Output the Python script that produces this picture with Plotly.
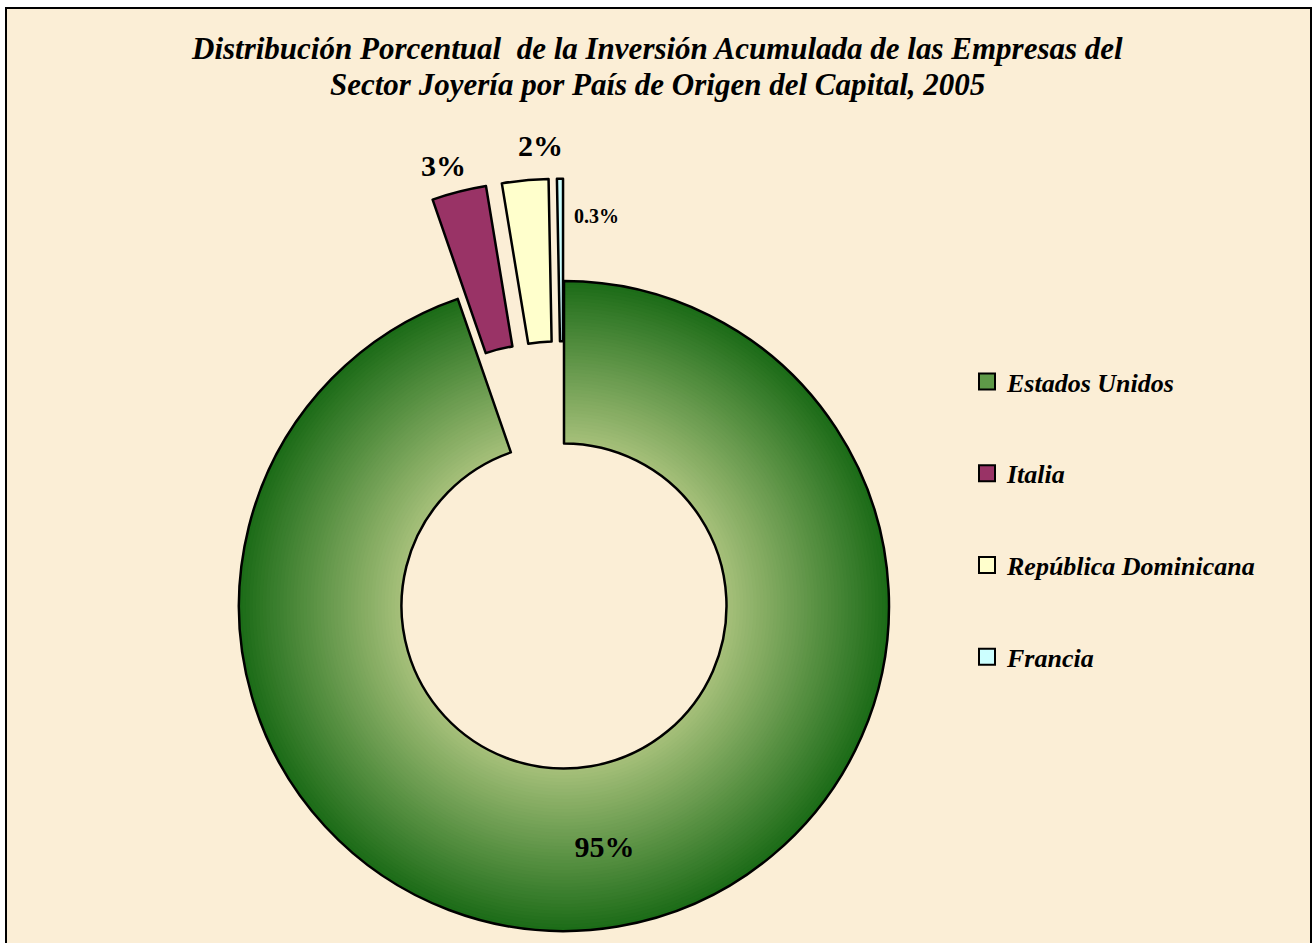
import math
import plotly.graph_objects as go

# ---------------- data ----------------
countries = ["Estados Unidos", "Italia", "República Dominicana", "Francia"]
shares = [94.7, 2.7, 2.3, 0.3]
label_text = ["95%", "3%", "2%", "0.3%"]
title_lines = [
    "Distribución Porcentual  de la Inversión Acumulada de las Empresas del",
    "Sector Joyería por País de Origen del Capital, 2005",
]

# ---------------- style ----------------
W, H = 1312, 943
CX, CY = 564, 606          # donut centre (px)
R = 325                    # outer radius (px)
HOLE = 0.5
PULL = 0.315
slice_colors = ["#5E9A48", "#993366", "#FFFFCC", "#CCFFFF"]
pulled = [False, True, True, True]
grad_outer = (27, 107, 23)
grad_inner = (166, 192, 122)
N_LAYERS = 48
label_shift = [(0, 0), (-16, -26), (15, -35), (37, 37)]   # px, screen down
label_size = [30, 30, 30, 20]
title_centers = [(657, 48), (657, 84)]
FONT = "Liberation Serif"
BG = "#FBEED6"
TRANSP = "rgba(0,0,0,0)"


def dom(cx, cy, r):
    return dict(x=[(cx - r) / W, (cx + r) / W], y=[1 - (cy + r) / H, 1 - (cy - r) / H])


def mix(a, b, t):
    return "rgb(%d,%d,%d)" % tuple(round(a[i] + (b[i] - a[i]) * t) for i in range(3))


total = sum(shares)
n = len(shares)
fig = go.Figure()

# radial gradient of the main slice, built from concentric rings
rin = R * HOLE
for k in range(N_LAYERS):
    rk = R - k * (R - rin) / N_LAYERS
    col = mix(grad_outer, grad_inner, (k + 0.5) / N_LAYERS)
    fig.add_trace(go.Pie(
        values=shares, labels=countries, sort=False, direction="clockwise", rotation=0,
        hole=rin / rk, domain=dom(CX, CY, rk),
        marker=dict(colors=[col if (i == 0) else TRANSP for i in range(n)], line=dict(width=0)),
        textinfo="none", hoverinfo="skip", showlegend=False,
    ))

# outline + inside label of the main slice
fig.add_trace(go.Pie(
    values=shares, labels=countries, sort=False, direction="clockwise", rotation=0,
    hole=HOLE, domain=dom(CX, CY, R),
    marker=dict(colors=[TRANSP] * n,
                line=dict(color="black", width=[0 if pulled[i] else 2.5 for i in range(n)])),
    text=[label_text[i] if not pulled[i] else "" for i in range(n)],
    textinfo="text", textposition=["inside" if not pulled[i] else "none" for i in range(n)],
    insidetextorientation="horizontal",
    textfont=dict(family=FONT, size=label_size[0], color="black", weight="bold"),
    hoverinfo="label+percent", showlegend=False,
))

# exploded slices, each drawn from a centre displaced along its mid-angle
annotations = []
cum = 0.0
for i in range(n):
    v = shares[i]
    theta = math.radians(360.0 * (cum + v / 2) / total)
    cum += v
    if not pulled[i]:
        continue
    d = PULL * R
    cx = CX + d * math.sin(theta)
    cy = CY - d * math.cos(theta)
    fig.add_trace(go.Pie(
        values=shares, labels=countries, sort=False, direction="clockwise", rotation=0,
        hole=HOLE, domain=dom(cx, cy, R),
        marker=dict(colors=[slice_colors[j] if j == i else TRANSP for j in range(n)],
                    line=dict(color="black", width=[2.5 if j == i else 0 for j in range(n)])),
        textinfo="none", hoverinfo="skip", showlegend=False,
    ))
    ox = cx + R * math.sin(theta)
    oy = cy - R * math.cos(theta)
    annotations.append(dict(
        x=ox / W, y=1 - oy / H, xref="paper", yref="paper",
        xshift=label_shift[i][0], yshift=-label_shift[i][1],
        text=label_text[i], showarrow=False, xanchor="center", yanchor="middle",
        font=dict(family=FONT, size=label_size[i], color="black", weight="bold"),
    ))

# title (two lines, tight spacing as in the original)
for line, (tx, ty) in zip(title_lines, title_centers):
    annotations.append(dict(
        x=tx / W, y=1 - ty / H, xref="paper", yref="paper", text=line,
        showarrow=False, xanchor="center", yanchor="middle",
        font=dict(family=FONT, size=31, color="black", weight="bold", style="italic"),
    ))

# legend entries
for name, col in zip(countries, slice_colors):
    fig.add_trace(go.Scatter(
        x=[None], y=[None], mode="markers", name=name, legendgroup=name,
        marker=dict(symbol="square", size=17, color=col, line=dict(color="black", width=2)),
        hoverinfo="skip",
    ))

fig.update_layout(
    width=W, height=H, margin=dict(l=0, r=0, t=0, b=0),
    paper_bgcolor="white", plot_bgcolor=TRANSP,
    xaxis=dict(visible=False), yaxis=dict(visible=False),
    legend=dict(
        x=967 / W, y=1 - 358 / H, xanchor="left", yanchor="top",
        font=dict(family=FONT, size=26, color="black", weight="bold", style="italic"),
        tracegroupgap=55, bgcolor=TRANSP, borderwidth=0, itemwidth=30,
    ),
    shapes=[dict(type="rect", xref="paper", yref="paper",
                 x0=6 / W, x1=1311 / W, y0=-0.01, y1=1 - 8 / H,
                 fillcolor=BG, line=dict(color="black", width=2), layer="below")],
    annotations=annotations,
)

fig.write_html("out.html", post_script="document.body.style.margin='0';",
               config={"displayModeBar": False})
